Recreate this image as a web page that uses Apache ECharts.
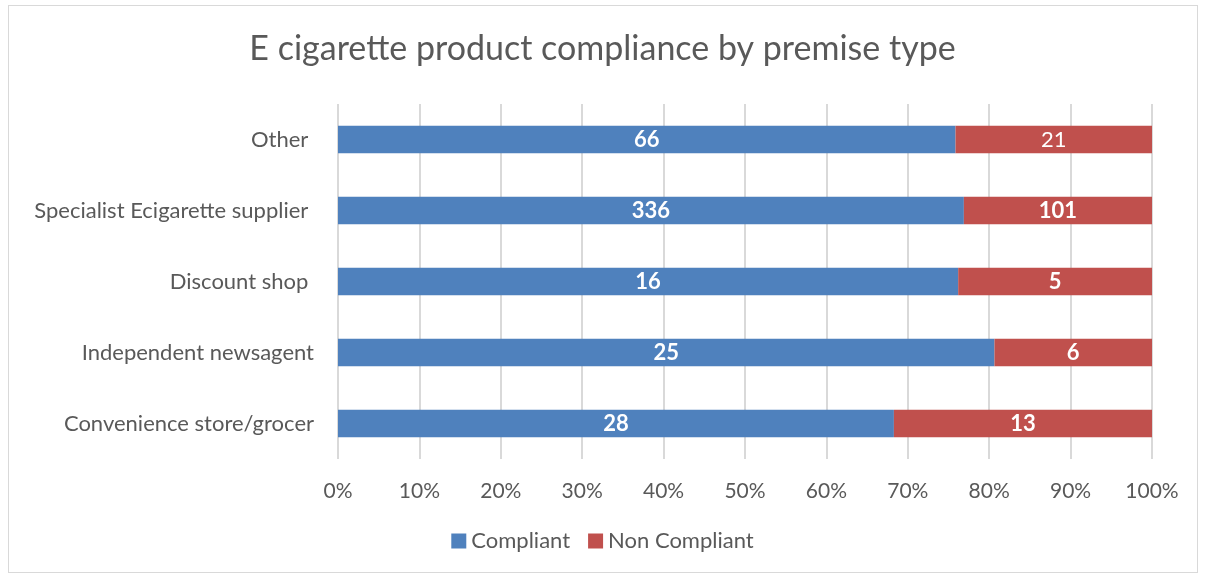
<!DOCTYPE html>
<html><head><meta charset="utf-8">
<script src="https://cdn.jsdelivr.net/npm/echarts@6/dist/echarts.min.js"></script>
<style>html,body{margin:0;padding:0;background:#fff}#c{width:1205px;height:577px;}
#frame{position:absolute;left:8px;top:5px;width:1190px;height:568px;border:1px solid #d9d9d9;box-sizing:border-box;pointer-events:none}</style>
</head><body><div id="c"></div><div id="frame"></div>
<script>
const categories = ['Convenience store/grocer', 'Independent newsagent', 'Discount shop ', 'Specialist Ecigarette supplier ', 'Other '];
const compliant = [28, 25, 16, 336, 66];
const nonCompliant = [13, 6, 5, 101, 21];
const xTicks = [0, 10, 20, 30, 40, 50, 60, 70, 80, 90, 100];

const totals = compliant.map((v, i) => v + nonCompliant[i]);
const pct = (arr) => arr.map((v, i) => ({ value: v / totals[i] * 100, raw: v }));
const FONT = 'Lato';

const chart = echarts.init(document.getElementById('c'));
chart.setOption({
  animation: false,
  textStyle: { fontFamily: FONT },
  title: {
    text: 'E cigarette product compliance by premise type',
    left: 'center', top: 27,
    textStyle: { fontFamily: FONT, fontSize: 34, fontWeight: 'normal', color: '#595959' }
  },
  legend: {
    bottom: 20, left: 'center',
    itemWidth: 15, itemHeight: 15, itemGap: 18,
    icon: 'rect',
    textStyle: { fontFamily: FONT, fontSize: 22, color: '#595959' },
    data: ['Compliant', 'Non Compliant']
  },
  grid: { left: 338, right: 53, top: 104, bottom: 118 },
  xAxis: {
    type: 'value', min: 0, max: 100, interval: 10,
    axisLine: { show: false }, axisTick: { show: false },
    splitLine: { lineStyle: { color: '#d9d9d9', width: 2 } },
    axisLabel: { formatter: v => xTicks.includes(v) ? v + '%' : '', fontSize: 21, color: '#595959', margin: 22, fontFamily: FONT }
  },
  yAxis: {
    type: 'category', data: categories,
    axisLine: { show: false }, axisTick: { show: false },
    axisLabel: { fontSize: 22, color: '#595959', margin: 24, fontFamily: FONT }
  },
  series: [
    {
      name: 'Compliant', type: 'bar', stack: 'a', barWidth: '39%',
      itemStyle: { color: '#4f81bd' },
      data: pct(compliant),
      label: { show: true, position: 'inside', formatter: p => p.data.raw, color: '#fff', fontWeight: 'bold', fontSize: 22, fontFamily: FONT }
    },
    {
      name: 'Non Compliant', type: 'bar', stack: 'a', barWidth: '39%',
      itemStyle: { color: '#c0504d' },
      data: pct(nonCompliant).map((d, i) => i === 4 ? Object.assign(d, { label: { fontWeight: 'normal' } }) : d),
      label: { show: true, position: 'inside', formatter: p => p.data.raw, color: '#fff', fontWeight: 'bold', fontSize: 22, fontFamily: FONT }
    }
  ]
});
</script></body></html>
